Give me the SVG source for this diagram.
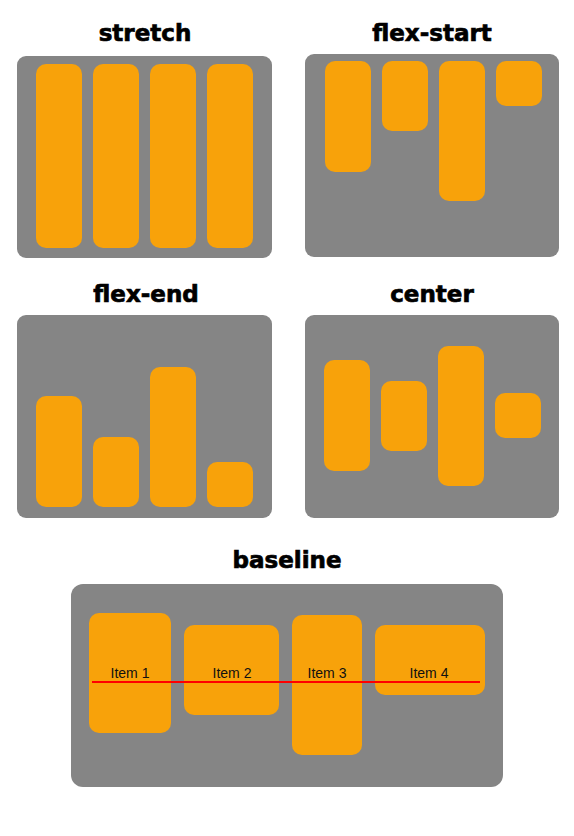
<svg xmlns="http://www.w3.org/2000/svg" width="574" height="836" viewBox="0 0 574 836">
<style>
.bg{fill:#ffffff}
.panel{fill:#858585}
.item{fill:#f8a20a}
.title{font-family:"DejaVu Sans",sans-serif;font-weight:bold;font-size:23px;fill:#000;stroke:#000;stroke-width:0.7;text-anchor:middle}
.lbl{font-family:"Liberation Sans",Arial,sans-serif;font-size:14px;fill:#111;text-anchor:middle}
.base{stroke:#ff0000;stroke-width:2}
</style>
<rect class="bg" x="0" y="0" width="574" height="836"/>
<g id="stretch">
<text class="title" x="145" y="41">stretch</text>
<rect class="panel" x="17" y="56" width="255" height="202" rx="9"/>
<rect class="item" x="36" y="64" width="46" height="184" rx="10"/>
<rect class="item" x="93" y="64" width="46" height="184" rx="10"/>
<rect class="item" x="150" y="64" width="46" height="184" rx="10"/>
<rect class="item" x="207" y="64" width="46" height="184" rx="10"/>
</g>
<g id="flex-start">
<text class="title" x="432" y="41">flex-start</text>
<rect class="panel" x="305" y="54" width="254" height="203" rx="9"/>
<rect class="item" x="325" y="61" width="46" height="111" rx="10"/>
<rect class="item" x="382" y="61" width="46" height="70" rx="10"/>
<rect class="item" x="439" y="61" width="46" height="140" rx="10"/>
<rect class="item" x="496" y="61" width="46" height="45" rx="10"/>
</g>
<g id="flex-end">
<text class="title" x="146" y="302">flex-end</text>
<rect class="panel" x="17" y="315" width="255" height="203" rx="9"/>
<rect class="item" x="36" y="396" width="46" height="111" rx="10"/>
<rect class="item" x="93" y="437" width="46" height="70" rx="10"/>
<rect class="item" x="150" y="367" width="46" height="140" rx="10"/>
<rect class="item" x="207" y="462" width="46" height="45" rx="10"/>
</g>
<g id="center">
<text class="title" x="432" y="302">center</text>
<rect class="panel" x="305" y="315" width="254" height="203" rx="9"/>
<rect class="item" x="324" y="360" width="46" height="111" rx="10"/>
<rect class="item" x="381" y="381" width="46" height="70" rx="10"/>
<rect class="item" x="438" y="346" width="46" height="140" rx="10"/>
<rect class="item" x="495" y="393" width="46" height="45" rx="10"/>
</g>
<g id="baseline">
<text class="title" x="287" y="568">baseline</text>
<rect class="panel" x="71" y="584" width="432" height="203" rx="12"/>
<rect class="item" x="89" y="613" width="82" height="120" rx="10"/>
<rect class="item" x="184" y="625" width="95" height="90" rx="10"/>
<rect class="item" x="292" y="615" width="70" height="140" rx="10"/>
<rect class="item" x="375" y="625" width="110" height="70" rx="10"/>
<text class="lbl" x="130" y="678">Item 1</text>
<text class="lbl" x="232" y="678">Item 2</text>
<text class="lbl" x="327" y="678">Item 3</text>
<text class="lbl" x="429" y="678">Item 4</text>
<line class="base" x1="92" y1="682" x2="480" y2="682"/>
</g>
</svg>
